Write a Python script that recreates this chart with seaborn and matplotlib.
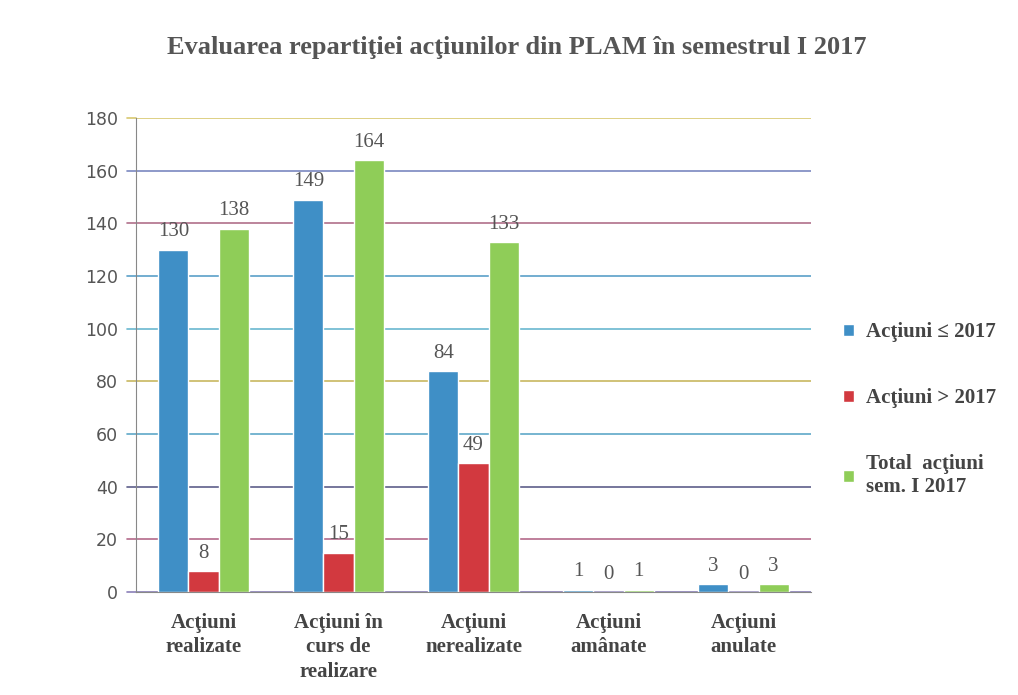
import matplotlib
matplotlib.use('Agg')
import matplotlib.pyplot as plt
import seaborn as sns
import pandas as pd

# data
categories = ['Acţiuni\nrealizate', 'Acţiuni în\ncurs de\nrealizare', 'Acţiuni\nnerealizate',
              'Acţiuni\namânate', 'Acţiuni\nanulate']
series = ['Acţiuni ≤ 2017', 'Acţiuni > 2017', 'Total  acţiuni\nsem. I 2017']
vals_le_2017 = [130, 149, 84, 1, 3]
vals_gt_2017 = [8, 15, 49, 0, 0]
vals_total = [138, 164, 133, 1, 3]
y_ticks = [0, 20, 40, 60, 80, 100, 120, 140, 160, 180]

colors = ['#3f8fc6', '#d2393f', '#8fcd58']
grid_colors = ['#8a7fb8', '#b46a8a', '#5d5f8a', '#5fa8c8', '#c8b860', '#6ab8d0',
               '#5aa0c8', '#b0708a', '#7a88c0', '#d8c870']

rows = []
for name, vals in zip(series, [vals_le_2017, vals_gt_2017, vals_total]):
    for c, v in zip(categories, vals):
        rows.append({'cat': c, 'serie': name, 'val': v})
df = pd.DataFrame(rows)

sns.set_style('white')
plt.rcParams['font.family'] = ['Liberation Serif', 'DejaVu Serif']

fig = plt.figure(figsize=(10.18, 6.95), dpi=100)
ax = fig.add_axes([0.1336, 0.148, 0.663, 0.682])

# coloured gridlines, extended a little left of the axis like the original
for t, gc in zip(y_ticks, grid_colors):
    ax.axhline(t, color=gc, lw=1.2, zorder=0)
    ax.plot([-0.567, -0.5], [t, t], color=gc, lw=1.2, clip_on=False, zorder=0)

sns.barplot(data=df, x='cat', y='val', hue='serie', palette=colors,
            width=0.67, saturation=1, ax=ax, zorder=2)

for cont in ax.containers:
    ax.bar_label(cont, padding=6, fontsize=15, color='#555555')

ax.set_ylim(0, 180)
ax.set_xlim(-0.5, 4.5)
ax.set_yticks(y_ticks)
ax.set_xlabel('')
ax.set_ylabel('')
for lab in ax.get_yticklabels():
    lab.set_family('DejaVu Sans')
ax.tick_params(axis='y', labelsize=12.5, labelcolor='#555555', length=0, pad=13)
ax.tick_params(axis='x', labelsize=15, labelcolor='#444444', length=0, pad=15)
for lab in ax.get_xticklabels():
    lab.set_fontweight('bold')
    lab.set_linespacing(1.3)
ax.set_xticks([-0.5, 0.5, 1.5, 2.5, 3.5, 4.5], minor=True)
ax.tick_params(axis='x', which='minor', length=5, color='#888888', direction='out')

for s in ['top', 'right']:
    ax.spines[s].set_visible(False)
ax.spines['left'].set_color('#888888')
ax.spines['bottom'].set_color('#888888')

leg = ax.legend(loc='center left', bbox_to_anchor=(1.02, 0.385), frameon=False,
                prop={'weight': 'bold', 'size': 15}, labelspacing=2.2,
                handlelength=0.5, handleheight=0.5, handletextpad=0.6)
for txt in leg.get_texts():
    txt.set_color('#444444')

fig.suptitle('Evaluarea repartiţiei acţiunilor din PLAM în semestrul I 2017',
             x=0.508, y=0.948, fontsize=19, fontweight='bold', color='#555555')

fig.savefig('out.png', dpi=100)
